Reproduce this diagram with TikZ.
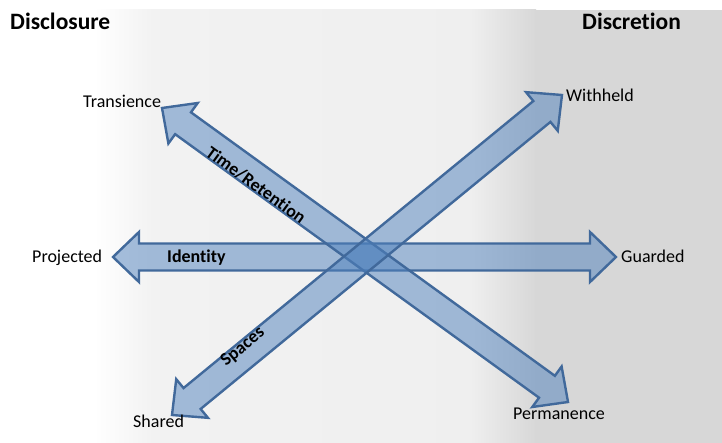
\documentclass[tikz,border=0pt]{standalone}
\usepackage{fontspec}
\setmainfont{Carlito}[Ligatures={NoCommon}]
\definecolor{arrowfill}{HTML}{4F81BD}
\definecolor{arrowline}{HTML}{41699B}
\definecolor{bgmid}{gray}{0.949}
\definecolor{bgmidb}{gray}{0.938}
\definecolor{bgdark}{gray}{0.845}
\tikzset{
  bigarrow/.style={fill=arrowfill, fill opacity=0.5, draw=arrowline, line width=2.4pt, line join=miter},
  endlabel/.style={anchor=base west, inner sep=0pt, font=\fontsize{18}{21}\selectfont},
  axislabel/.style={inner sep=0pt, font=\bfseries\fontsize{18}{21}\selectfont},
  header/.style={anchor=base west, inner sep=0pt, font=\bfseries\fontsize{23.5}{26}\selectfont},
  pics/dblarrow/.style={code={
    \draw[bigarrow] (0,0) -- (26,25) -- (26,13.5) -- (#1-26,13.5) -- (#1-26,25) -- (#1,0)
      -- (#1-26,-25) -- (#1-26,-13.5) -- (26,-13.5) -- (26,-25) -- cycle;
  }}
}
\begin{document}
\begin{tikzpicture}[x=1pt,y=-1pt]
\useasboundingbox (0,0) rectangle (722,443);
% background
\fill[white] (0,0) rectangle (722,443);
\shade[left color=white, right color=bgmid] (94,10) rectangle (153,443);
\shade[left color=bgmid, right color=bgmidb] (152,10) rectangle (471,443);
\shade[left color=bgmidb, right color=bgdark] (470,10) rectangle (536,443);
\fill[bgdark] (535,10) rectangle (722,443);

% arrow end points
\coordinate (projTip) at (113,257);
\coordinate (transTip) at (162,108);
\coordinate (sharedTip) at (172,415);

% arrows
\pic[rotate=0] at (projTip) {dblarrow=503};
\pic[rotate=-35.91] at (transTip) {dblarrow=501.3};
\pic[rotate=39.37] at (sharedTip) {dblarrow=504.5};

% headers
\node[header] (disc) at (10,30) {Disclosure};
\node[header] (discr) at (582,30) {Discretion};

% end labels
\node[endlabel] (trans) at (83,108) {Transience};
\node[endlabel] (with) at (566,102) {Withheld};
\node[endlabel] (proj) at (32,263) {Projected};
\node[endlabel] (guard) at (621,263) {Guarded};
\node[endlabel] (shared) at (133,427) {Shared};
\node[endlabel] (perm) at (513,419) {Permanence};

% axis labels
\node[axislabel, anchor=base west] (ident) at (167,263) {Identity};
\node[axislabel, rotate=-36] (time) at (256,185) {Time/Retention};
\node[axislabel, rotate=39.4] (spaces) at (243,347) {Spaces};
\end{tikzpicture}
\end{document}
